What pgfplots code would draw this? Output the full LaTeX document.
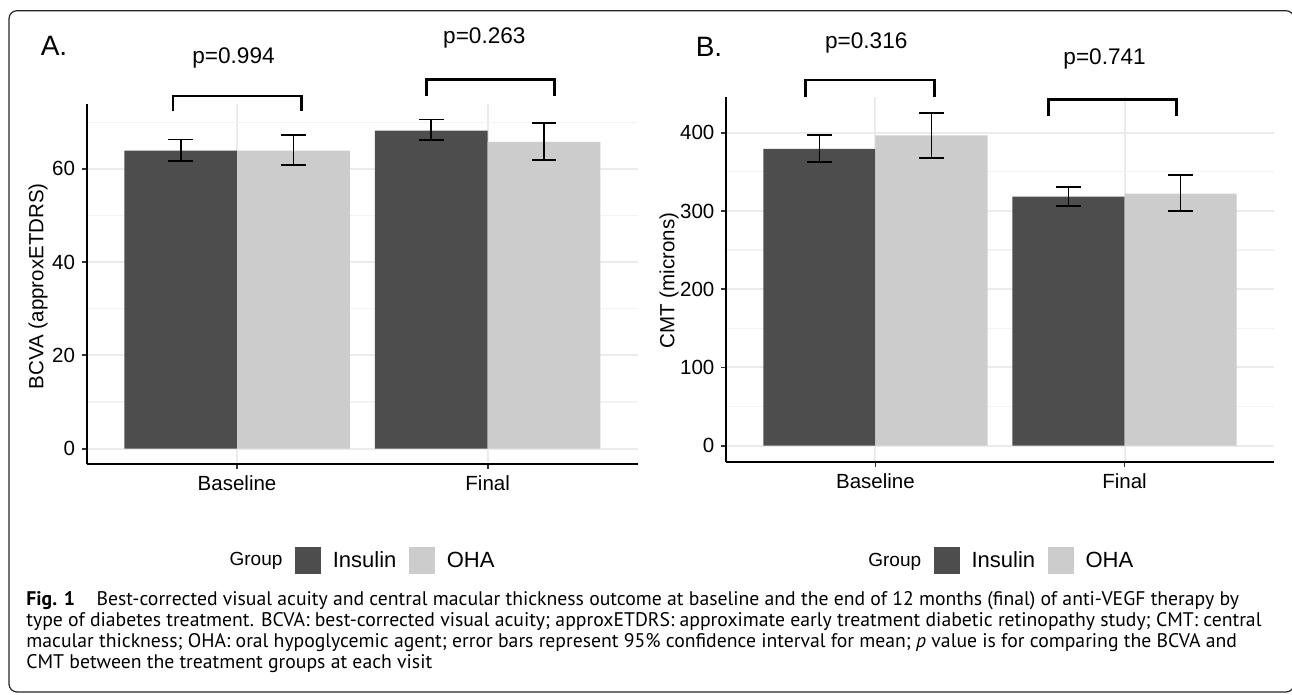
\documentclass[border=0pt]{standalone}
\usepackage{fontspec}
\setmainfont{Liberation Sans}
\newfontfamily\capfont{PT Sans}
\usepackage{pgfplots}
\pgfplotsset{compat=1.18}

\definecolor{insulin}{HTML}{4D4D4D}
\definecolor{oha}{HTML}{CCCCCC}
\definecolor{gridmaj}{HTML}{EBEBEB}
\definecolor{gridmin}{HTML}{F3F3F3}

% bar data: x, mean, upper error, lower error
\pgfplotstableread{
x     y     ep   em
0.775 63.9  2.4  2.2
1.775 68.2  2.4  2.0
}\bcvaIns
\pgfplotstableread{
x     y     ep   em
1.225 63.9  3.3  3.1
2.225 65.8  4.1  3.9
}\bcvaOha
\pgfplotstableread{
x     y      ep    em
0.775 379.2  18.2  16.6
1.775 318.2  12.8  11.5
}\cmtIns
\pgfplotstableread{
x     y      ep    em
1.225 396.7  28.9  29.0
2.225 322.0  24.0  21.7
}\cmtOha

\pgfplotsset{
  panel/.style={
    scale only axis, clip=false,
    xmin=0.4, xmax=2.6,
    axis lines=left,
    axis line style={-, black, line width=0.9pt},
    xtick={1,2}, xticklabels={Baseline,Final},
    tick align=outside, major tick length=2.3pt, minor tick length=0pt,
    tick style={black!80, line width=0.9pt},
    grid=both,
    major grid style={gridmaj, line width=1pt},
    minor grid style={gridmin, line width=0.6pt},
    tick label style={font=\fontsize{10.25}{12}\selectfont},
    label style={font=\fontsize{10.25}{12}\selectfont},
    /pgf/number format/assume math mode=true,
    bar width=0.45,
    legend columns=-1,
    legend style={draw=none, fill=none, anchor=center,
      font=\fontsize{11}{13}\selectfont, nodes={inner sep=0pt},
      /tikz/every odd column/.append style={column sep=5.75pt},
      /tikz/every even column/.append style={column sep=6.25pt}},
  },
  bars/.style={ybar, bar shift=0pt, draw=none, fill=#1,
    legend image code/.code={\fill[#1] (0pt,-6.75pt) rectangle (13.2pt,6.75pt);},
    error bars/.cd, y dir=both, y explicit,
    error mark=|,
    error bar style={black, line width=0.85pt},
    error mark options={black, line width=0.85pt, mark size=6.2pt}},
  bracket/.style={black, line width=1.3pt, mark=none, forget plot},
}
\tikzset{pval/.style={font=\fontsize{11.3}{13}\selectfont}}

\begin{document}
\begin{tikzpicture}
\useasboundingbox (0,0) rectangle (646pt,-347.5pt);
\draw[line width=0.6pt, rounded corners=4pt, black!85] (4.5pt,-5.35pt) rectangle (647pt,-346pt);

% Panel A
\begin{axis}[panel,
  at={(43.35pt,-232pt)}, anchor=south west,
  width=275.65pt, height=180pt,
  ymin=-3.3, ymax=73.9,
  ytick={0,20,40,60}, minor ytick={10,30,50,70},
  ylabel={BCVA (approxETDRS)},
  ylabel style={at={(axis description cs:-0.0883,0.494)}, anchor=center},
  legend style={at={(0.489,-0.269)}},
]
\addlegendimage{empty legend}
\addlegendentry{\fontsize{9.5}{11}\selectfont Group}
\addplot[bars=insulin] table[x=x, y=y, y error plus=ep, y error minus=em] {\bcvaIns};
\addlegendentry{Insulin}
\addplot[bars=oha] table[x=x, y=y, y error plus=ep, y error minus=em] {\bcvaOha};
\addlegendentry{OHA}
\addplot[bracket] coordinates {(0.745,72.3) (0.745,75.6) (1.257,75.6) (1.257,72.3)};
\addplot[bracket] coordinates {(1.755,75.7) (1.755,79.2) (2.267,79.2) (2.267,75.7)};
\node[pval] at (axis cs:0.986,83.8) {p=0.994};
\node[pval] at (axis cs:1.987,88.0) {p=0.263};
\end{axis}

% Panel B
\begin{axis}[panel,
  at={(363pt,-231pt)}, anchor=south west,
  width=274pt, height=182.65pt,
  ymin=-20.8, ymax=446,
  ytick={0,100,200,300,400}, minor ytick={50,150,250,350},
  ylabel={CMT (microns)},
  ylabel style={at={(axis description cs:-0.104,0.497)}, anchor=center},
  legend style={at={(0.491,-0.271)}},
]
\addlegendimage{empty legend}
\addlegendentry{\fontsize{9.5}{11}\selectfont Group}
\addplot[bars=insulin] table[x=x, y=y, y error plus=ep, y error minus=em] {\cmtIns};
\addlegendentry{Insulin}
\addplot[bars=oha] table[x=x, y=y, y error plus=ep, y error minus=em] {\cmtOha};
\addlegendentry{OHA}
\addplot[bracket] coordinates {(0.72,445.2) (0.72,467.3) (1.237,467.3) (1.237,445.2)};
\addplot[bracket] coordinates {(1.694,421.3) (1.694,442.7) (2.209,442.7) (2.209,421.3)};
\node[pval] at (axis cs:0.963,514.3) {p=0.316};
\node[pval] at (axis cs:1.92,494) {p=0.741};
\end{axis}

\node[font=\fontsize{14}{16}\selectfont] at (27pt,-23.1pt) {A.};
\node[font=\fontsize{14}{16}\selectfont] at (354.5pt,-23.6pt) {B.};

\begin{scope}[every node/.style={anchor=base west, inner sep=0pt, font=\capfont\fontsize{9.85}{11.8}\selectfont}]
\node at (13pt,-302.5pt) {\textbf{Fig. 1}\hspace{1.1em}Best-corrected visual acuity and central macular thickness outcome at baseline and the end of 12 months (final) of anti-VEGF therapy by};
\node at (13pt,-313.05pt) {type of diabetes treatment. BCVA: best-corrected visual acuity; approxETDRS: approximate early treatment diabetic retinopathy study; CMT: central};
\node at (13pt,-323.6pt) {macular thickness; OHA: oral hypoglycemic agent; error bars represent 95\% confidence interval for mean; \textit{p} value is for comparing the BCVA and};
\node at (13pt,-334.15pt) {CMT between the treatment groups at each visit};
\end{scope}
\end{tikzpicture}
\end{document}
